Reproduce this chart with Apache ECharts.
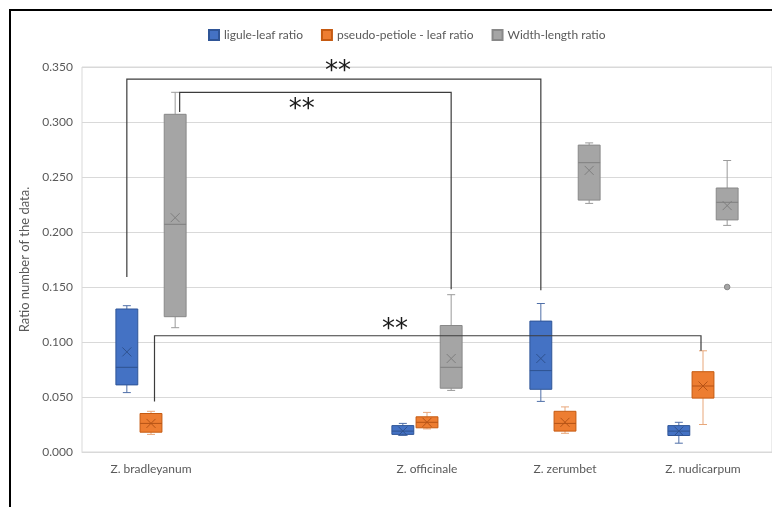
<!DOCTYPE html>
<html>
<head>
<meta charset="utf-8">
<script src="https://cdn.jsdelivr.net/npm/echarts@6/dist/echarts.min.js"></script>
<style>
  html, body { margin: 0; padding: 0; background: #fff; }
  #chart { width: 772px; height: 507px; }
</style>
</head>
<body>
<div id="chart"></div>
<script>
// Species along the x axis (the second slot is left empty on purpose)
const categories = ['Z. bradleyanum', '', 'Z. officinale', 'Z. zerumbet', 'Z. nudicarpum'];
const seriesNames = ['ligule-leaf ratio', 'pseudo-petiole - leaf ratio', 'Width-length ratio'];

// Box summaries per species: [lower whisker, Q1, median, Q3, upper whisker]
const liguleBoxes = [[0.054, 0.061, 0.077, 0.130, 0.133], null, [0.015, 0.016, 0.019, 0.024, 0.026], [0.046, 0.057, 0.074, 0.119, 0.135], [0.008, 0.015, 0.019, 0.024, 0.027]];
const liguleMeans = [0.091, null, 0.019, 0.085, 0.019];

const petioleBoxes = [[0.016, 0.018, 0.026, 0.035, 0.037], null, [0.021, 0.022, 0.027, 0.032, 0.036], [0.017, 0.019, 0.026, 0.037, 0.041], [0.025, 0.049, 0.060, 0.073, 0.092]];
const petioleMeans = [0.026, null, 0.027, 0.027, 0.060];

const widthBoxes = [[0.113, 0.123, 0.207, 0.307, 0.327], null, [0.056, 0.058, 0.077, 0.115, 0.143], [0.226, 0.229, 0.263, 0.279, 0.281], [0.206, 0.211, 0.227, 0.240, 0.265]];
const widthMeans = [0.213, null, 0.085, 0.256, 0.224];
const widthOutliers = [[4, 0.150]];

// Significance brackets: species index + series index at each end, leg heights, bar height
const sigFrom = [[0, 0], [0, 2], [0, 1]];
const sigTo = [[3, 0], [2, 2], [4, 1]];
const sigLegs = [[0.159, 0.147], [0.309, 0.148], [0.046, 0.092]];
const sigTops = [0.339, 0.327, 0.1057];
const sigMarks = ['**', '**', '**'];

// ---- layout / styling ----
const SLOT = 24.3 / 138.8;   // box centre spacing as a share of the category band
const BOX = 22 / 138.8;      // box width as a share of the band
const CAP = 8;               // whisker cap length (px)
const legNudge = [[0, 0], [4.5, 0], [3.5, -2]];
const markPlace = [[0.51, -13], [0.45, 12], [0.44, -11]];

const styles = [
  { fill: '#4472C4', stroke: '#2F5597', whisker: '#4F6FA8', mark: '#2F528F' },
  { fill: '#ED7D31', stroke: '#C55A11', whisker: '#E8A77A', mark: '#B55316' },
  { fill: '#A5A5A5', stroke: '#888888', whisker: '#9A9A9A', mark: '#7F7F7F' }
];

function toRows(boxes, means) {
  const rows = [];
  boxes.forEach((b, i) => { if (b) rows.push([i].concat(b, [means[i]])); });
  return rows;
}

function boxRenderer(slot, st) {
  return function (params, api) {
    const band = api.size([1, 0])[0];
    const cat = api.value(0);
    const cx = api.coord([cat, 0])[0] + (slot - 1) * SLOT * band;
    const y = i => api.coord([cat, api.value(i)])[1];
    const lo = y(1), q1 = y(2), med = y(3), q3 = y(4), hi = y(5), mean = y(6);
    const hw = BOX * band / 2;
    const m = 4.5;
    const ws = { stroke: st.whisker, lineWidth: 1 };
    return {
      type: 'group',
      children: [
        { type: 'line', shape: { x1: cx, y1: hi, x2: cx, y2: q3 }, style: ws },
        { type: 'line', shape: { x1: cx, y1: q1, x2: cx, y2: lo }, style: ws },
        { type: 'line', shape: { x1: cx - CAP / 2, y1: hi, x2: cx + CAP / 2, y2: hi }, style: ws },
        { type: 'line', shape: { x1: cx - CAP / 2, y1: lo, x2: cx + CAP / 2, y2: lo }, style: ws },
        { type: 'rect', shape: { x: cx - hw, y: q3, width: 2 * hw, height: q1 - q3 },
          style: { fill: st.fill, stroke: st.stroke, lineWidth: 1 } },
        { type: 'line', shape: { x1: cx - hw, y1: med, x2: cx + hw, y2: med }, style: { stroke: st.mark, lineWidth: 1 } },
        { type: 'line', shape: { x1: cx - m, y1: mean - m, x2: cx + m, y2: mean + m }, style: { stroke: st.mark, lineWidth: 1 } },
        { type: 'line', shape: { x1: cx - m, y1: mean + m, x2: cx + m, y2: mean - m }, style: { stroke: st.mark, lineWidth: 1 } }
      ]
    };
  };
}

function outlierRenderer(slot, st) {
  return function (params, api) {
    const band = api.size([1, 0])[0];
    const p = api.coord([api.value(0), api.value(1)]);
    return { type: 'circle', shape: { cx: p[0] + (slot - 1) * SLOT * band, cy: p[1], r: 2.8 },
      style: { fill: st.fill, stroke: st.stroke, lineWidth: 1 } };
  };
}

function bracketRenderer(params, api) {
  const i = params.dataIndex;
  const band = api.size([1, 0])[0];
  const xOf = (end, n) => api.coord([end[0], 0])[0] + (end[1] - 1) * SLOT * band + n;
  const yOf = v => api.coord([0, v])[1];
  const xa = xOf(sigFrom[i], legNudge[i][0]);
  const xb = xOf(sigTo[i], legNudge[i][1]);
  const yt = yOf(sigTops[i]);
  return {
    type: 'group',
    children: [
      { type: 'polyline',
        shape: { points: [[xa, yOf(sigLegs[i][0])], [xa, yt], [xb, yt], [xb, yOf(sigLegs[i][1])]] },
        style: { stroke: '#3C3C3C', lineWidth: 1.2, fill: null } },
      { type: 'text',
        style: { x: xa + (xb - xa) * markPlace[i][0], y: yt + markPlace[i][1] + 6, text: sigMarks[i],
          font: '26px "DejaVu Sans"', fill: '#1A1A1A', align: 'center', verticalAlign: 'middle' } }
    ]
  };
}

const boxSets = [[liguleBoxes, liguleMeans], [petioleBoxes, petioleMeans], [widthBoxes, widthMeans]];

const series = boxSets.map((set, k) => ({
  name: seriesNames[k],
  type: 'custom',
  renderItem: boxRenderer(k, styles[k]),
  itemStyle: { color: styles[k].fill, borderColor: styles[k].stroke, borderWidth: 1 },
  encode: { x: 0, y: [1, 2, 3, 4, 5, 6] },
  data: toRows(set[0], set[1]),
  z: 3
}));

series.push({
  name: seriesNames[2],
  type: 'custom',
  renderItem: outlierRenderer(2, styles[2]),
  itemStyle: { color: styles[2].fill },
  encode: { x: 0, y: 1 },
  data: widthOutliers,
  z: 3
});

series.push({
  name: 'brackets',
  type: 'custom',
  renderItem: bracketRenderer,
  encode: { x: 0, y: 1 },
  data: sigTops.map((t, i) => [sigFrom[i][0], t]),
  silent: true,
  z: 4
});

const font = 'Lato';
const chart = echarts.init(document.getElementById('chart'), null, { renderer: 'canvas' });
chart.setOption({
  animation: false,
  backgroundColor: '#ffffff',
  textStyle: { fontFamily: font },
  graphic: [{
    type: 'rect', shape: { x: 10, y: 10, width: 800, height: 600 },
    style: { fill: null, stroke: '#000000', lineWidth: 2 }, z: 10
  }],
  legend: {
    data: seriesNames,
    top: 24,
    left: 203,
    icon: 'rect',
    itemWidth: 10,
    itemHeight: 10,
    itemGap: 18,
    textStyle: { fontSize: 12, color: '#595959', fontFamily: font }
  },
  grid: {
    left: 82, top: 67, width: 694, height: 385,
    show: true, borderColor: '#D9D9D9', borderWidth: 1, backgroundColor: 'transparent'
  },
  xAxis: {
    type: 'category',
    data: categories,
    axisLine: { lineStyle: { color: '#D9D9D9' } },
    axisTick: { show: false },
    axisLabel: { color: '#595959', fontSize: 12, margin: 11, fontFamily: font, interval: 0 },
    splitLine: { show: false }
  },
  yAxis: {
    type: 'value',
    min: 0, max: 0.35, interval: 0.05,
    name: 'Ratio number of the data.',
    nameLocation: 'middle',
    nameGap: 45,
    nameTextStyle: { color: '#595959', fontSize: 13, fontFamily: font },
    axisLine: { show: false },
    axisTick: { show: false },
    axisLabel: { color: '#595959', fontSize: 12, margin: 9, fontFamily: font, formatter: v => v.toFixed(3) },
    splitLine: { lineStyle: { color: '#D9D9D9' } }
  },
  series: series
});
</script>
</body>
</html>
